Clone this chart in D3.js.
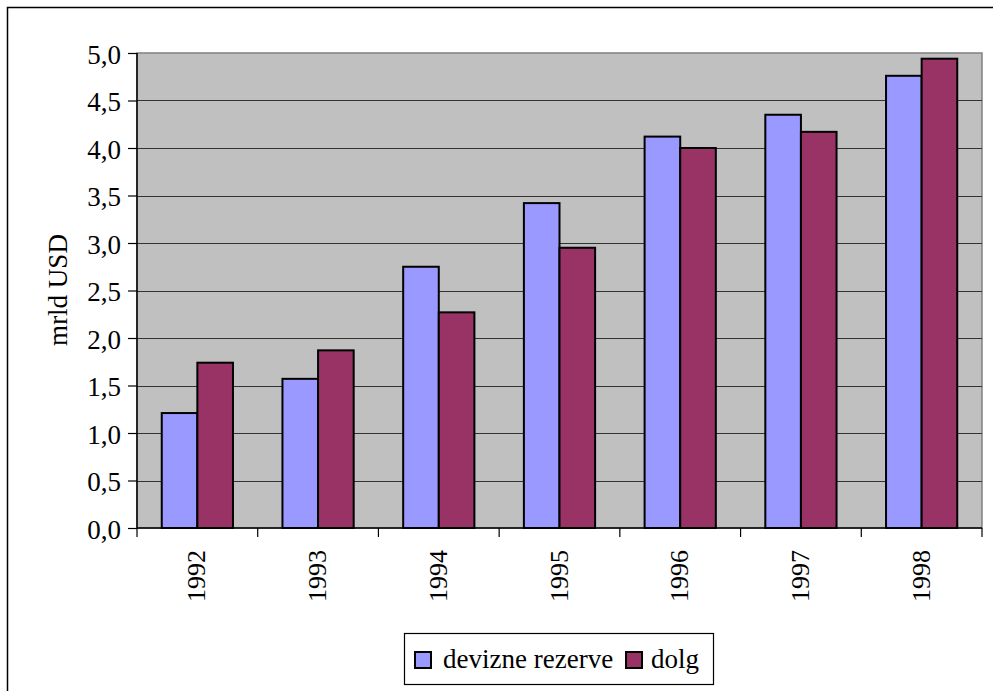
<!DOCTYPE html>
<html>
<head>
<meta charset="utf-8">
<script src="https://cdn.jsdelivr.net/npm/d3@7"></script>
<style>
  body { margin: 0; background: #fff; }
  svg text { font-family: "Liberation Serif", "Times New Roman", serif !important; fill: #000; }
</style>
</head>
<body>
<div id="chart"></div>
<script>
// Data
const years = ["1992", "1993", "1994", "1995", "1996", "1997", "1998"];
const devizneRezerve = [1.21, 1.57, 2.75, 3.42, 4.12, 4.35, 4.76];
const dolg = [1.74, 1.87, 2.27, 2.95, 4.00, 4.17, 4.94];
const yTicks = [0, 0.5, 1, 1.5, 2, 2.5, 3, 3.5, 4, 4.5, 5];

const seriesList = [
    { name: "devizne rezerve", values: devizneRezerve, color: "#9999ff" },
    { name: "dolg", values: dolg, color: "#993366" }
];

function createBarChart() {
    const W = 993, H = 691;
    const margin = { top: 53, right: 11, bottom: 163, left: 137 };
    const width = W - margin.left - margin.right;
    const height = H - margin.top - margin.bottom;

    const svg = d3.select("#chart").append("svg")
        .attr("width", W)
        .attr("height", H)
        .attr("font-family", "Liberation Serif, serif");

    // outer frame
    svg.append("rect")
        .attr("x", 7.5).attr("y", 7.5)
        .attr("width", W).attr("height", H)
        .style("fill", "none")
        .style("stroke", "#000")
        .style("stroke-width", 1.5);

    const g = svg.append("g")
        .attr("transform", `translate(${margin.left},${margin.top})`);

    const x0 = d3.scaleBand().domain(years).range([0, width]).paddingInner(0).paddingOuter(0);
    const x1 = d3.scaleBand().domain(seriesList.map(s => s.name))
        .range([x0.bandwidth() * 0.205, x0.bandwidth() * 0.795]);
    const y = d3.scaleLinear().domain([0, 5]).range([height, 0]);

    // plot background
    g.append("rect")
        .attr("width", width).attr("height", height)
        .style("fill", "#c0c0c0")
        .style("stroke", "#808080")
        .style("stroke-width", 1.5);

    // gridlines
    g.selectAll(".grid")
        .data(yTicks.filter(d => d > 0 && d < 5))
        .enter().append("line")
        .attr("x1", 0).attr("x2", width)
        .attr("y1", d => Math.round(y(d)) + 0.5)
        .attr("y2", d => Math.round(y(d)) + 0.5)
        .style("stroke", "#333")
        .style("stroke-width", 1.2);

    // bars
    years.forEach((yr, i) => {
        seriesList.forEach(s => {
            g.append("rect")
                .attr("x", x0(yr) + x1(s.name))
                .attr("y", y(s.values[i]))
                .attr("width", x1.bandwidth())
                .attr("height", height - y(s.values[i]))
                .style("fill", s.color)
                .style("stroke", "#000")
                .style("stroke-width", 2);
        });
    });

    // y axis
    const yAxis = g.append("g")
        .call(d3.axisLeft(y).tickValues(yTicks).tickSize(9).tickPadding(7)
            .tickFormat(d => d3.format(".1f")(d).replace(".", ",")));
    yAxis.attr("font-family", null).attr("font-size", null);
    yAxis.select(".domain").style("stroke", "#000").style("stroke-width", 1.5)
        .attr("d", `M0,${height}V0`);
    yAxis.selectAll(".tick line").style("stroke", "#000").style("stroke-width", 1.2);
    yAxis.selectAll("text").style("font-size", "27px").attr("dy", "0.38em");

    // x axis
    const xAxis = g.append("g")
        .attr("transform", `translate(0,${height})`);
    xAxis.append("line")
        .attr("x1", 0).attr("x2", width)
        .style("stroke", "#000").style("stroke-width", 1.5);
    xAxis.selectAll(".xtick")
        .data(years.concat(["end"]))
        .enter().append("line")
        .attr("x1", (d, i) => i < years.length ? x0(d) : width)
        .attr("x2", (d, i) => i < years.length ? x0(d) : width)
        .attr("y1", 0).attr("y2", 9)
        .style("stroke", "#000").style("stroke-width", 1.2);
    xAxis.selectAll(".xlabel")
        .data(years)
        .enter().append("text")
        .attr("transform", d => `translate(${x0(d) + x0.bandwidth() / 2 - 1},${22}) rotate(-90)`)
        .attr("dy", "0.35em")
        .style("text-anchor", "end")
        .style("font-size", "26px")
        .text(d => d);

    // y axis title
    svg.append("text")
        .attr("transform", `translate(67,${290}) rotate(-90)`)
        .style("text-anchor", "middle")
        .style("font-size", "27px")
        .text("mrld USD");

    // legend
    const legend = svg.append("g").attr("transform", "translate(404,633)");
    legend.append("rect")
        .attr("x", 0.5).attr("y", 0.5)
        .attr("width", 309).attr("height", 51)
        .style("fill", "#fff")
        .style("stroke", "#000")
        .style("stroke-width", 1.2);
    const items = [{ s: seriesList[0], x: 11, tx: 39 }, { s: seriesList[1], x: 222, tx: 247 }];
    items.forEach(it => {
        legend.append("rect")
            .attr("x", it.x).attr("y", 19)
            .attr("width", 16).attr("height", 16)
            .style("fill", it.s.color)
            .style("stroke", "#000")
            .style("stroke-width", 2);
        legend.append("text")
            .attr("x", it.tx).attr("y", 35)
            .style("font-size", "27px")
            .text(it.s.name);
    });
}

createBarChart();
</script>
</body>
</html>
